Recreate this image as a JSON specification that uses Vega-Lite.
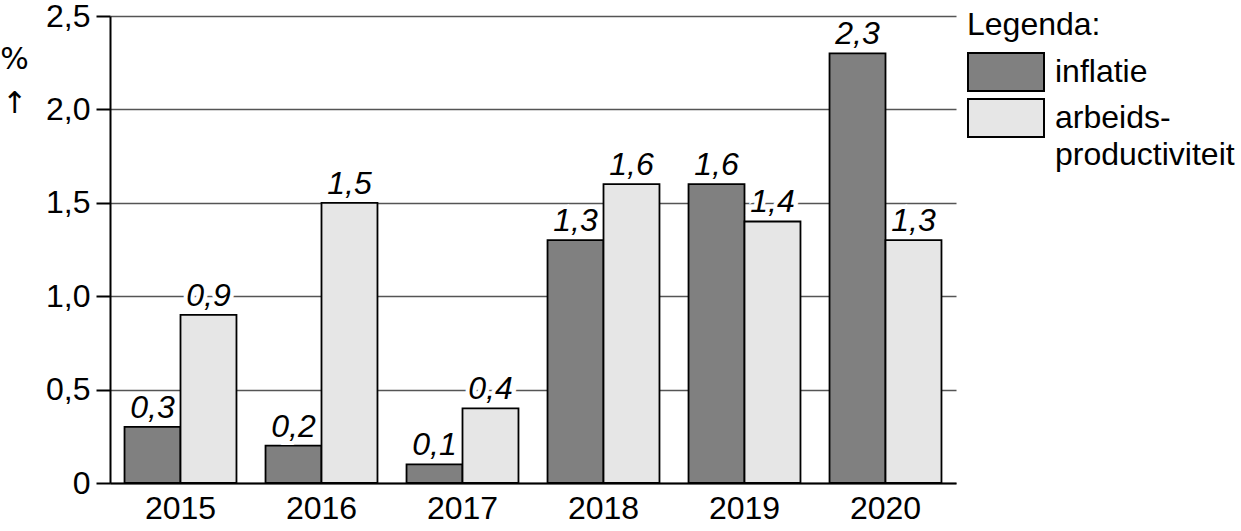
{
  "$schema": "https://vega.github.io/schema/vega-lite/v6.json",
  "width": 846,
  "height": 467,
  "autosize": {"type": "none"},
  "padding": {"left": 110, "top": 16, "right": 285, "bottom": 48},
  "background": "white",
  "data": {
    "values": [
      {"jaar": "2015", "reeks": "inflatie", "waarde": 0.3},
      {"jaar": "2015", "reeks": "arbeidsproductiviteit", "waarde": 0.9},
      {"jaar": "2016", "reeks": "inflatie", "waarde": 0.2},
      {"jaar": "2016", "reeks": "arbeidsproductiviteit", "waarde": 1.5},
      {"jaar": "2017", "reeks": "inflatie", "waarde": 0.1},
      {"jaar": "2017", "reeks": "arbeidsproductiviteit", "waarde": 0.4},
      {"jaar": "2018", "reeks": "inflatie", "waarde": 1.3},
      {"jaar": "2018", "reeks": "arbeidsproductiviteit", "waarde": 1.6},
      {"jaar": "2019", "reeks": "inflatie", "waarde": 1.6},
      {"jaar": "2019", "reeks": "arbeidsproductiviteit", "waarde": 1.4},
      {"jaar": "2020", "reeks": "inflatie", "waarde": 2.3},
      {"jaar": "2020", "reeks": "arbeidsproductiviteit", "waarde": 1.3}
    ]
  },
  "encoding": {
    "x": {
      "field": "jaar", "type": "nominal",
      "scale": {"paddingInner": 0.206, "paddingOuter": 0.103},
      "axis": {
        "title": null, "labelAngle": 0, "ticks": false,
        "labelFontSize": 32, "labelPadding": 10, "labelColor": "black",
        "domainColor": "black", "domainWidth": 2
      }
    },
    "xOffset": {"field": "reeks", "type": "nominal", "sort": ["inflatie", "arbeidsproductiviteit"]},
    "y": {
      "field": "waarde", "type": "quantitative",
      "scale": {"domain": [0, 2.5], "nice": false},
      "axis": {
        "title": ["%", "↑"],
        "titleFont": "DejaVu Sans",
        "titleAngle": 0, "titleX": -96, "titleY": 28, "titleAlign": "center",
        "titleBaseline": "top", "titleFontSize": 30, "titleFontWeight": "normal",
        "titleLineHeight": 44, "titleColor": "black",
        "values": [0, 0.5, 1, 1.5, 2, 2.5],
        "labelExpr": "datum.value == 0 ? '0' : format(datum.value, '.1f')",
        "labelFontSize": 32, "labelColor": "black", "labelPadding": 6,
        "tickSize": 14, "tickColor": "black", "tickWidth": 2,
        "domainColor": "black", "domainWidth": 2,
        "grid": true, "gridColor": "#555555", "gridWidth": 1.3
      }
    }
  },
  "layer": [
    {
      "mark": {"type": "bar", "stroke": "black", "strokeWidth": 1.8},
      "encoding": {
        "color": {
          "field": "reeks", "type": "nominal",
          "scale": {"domain": ["inflatie", "arbeidsproductiviteit"], "range": ["#808080", "#e6e6e6"]},
          "legend": {
            "title": "Legenda:",
            "orient": "none", "legendX": 857, "legendY": -6,
            "padding": 0,
            "titleFontSize": 32, "titleFontWeight": "normal", "titleColor": "black",
            "titlePadding": 10,
            "symbolType": "M-1,-1H1V0H-1Z",
            "symbolSize": 5776,
            "symbolStrokeColor": "black", "symbolStrokeWidth": 2, "symbolOpacity": 1,
            "labelFontSize": 32, "labelColor": "black", "labelOffset": 10, "labelLimit": 300,
            "labelExpr": "datum.label == 'arbeidsproductiviteit' ? ['arbeids-', 'productiviteit'] : datum.label",
            "rowPadding": 0,
            "encode": {"labels": {"update": {"dy": {"value": -19}, "lineHeight": {"value": 37}}}}
          }
        }
      }
    },
    {
      "mark": {"type": "text", "baseline": "alphabetic", "dy": -9, "fontSize": 32, "fontStyle": "italic", "stroke": "white", "strokeWidth": 8, "fill": "white"},
      "encoding": {"text": {"field": "waarde", "type": "quantitative", "format": ".1f"}}
    },
    {
      "mark": {"type": "text", "baseline": "alphabetic", "dy": -9, "fontSize": 32, "fontStyle": "italic", "fill": "black"},
      "encoding": {"text": {"field": "waarde", "type": "quantitative", "format": ".1f"}}
    }
  ],
  "config": {
    "font": "Liberation Sans",
    "view": {"stroke": null},
    "locale": {"number": {"decimal": ",", "thousands": ".", "grouping": [3], "currency": ["€", ""]}}
  }
}
